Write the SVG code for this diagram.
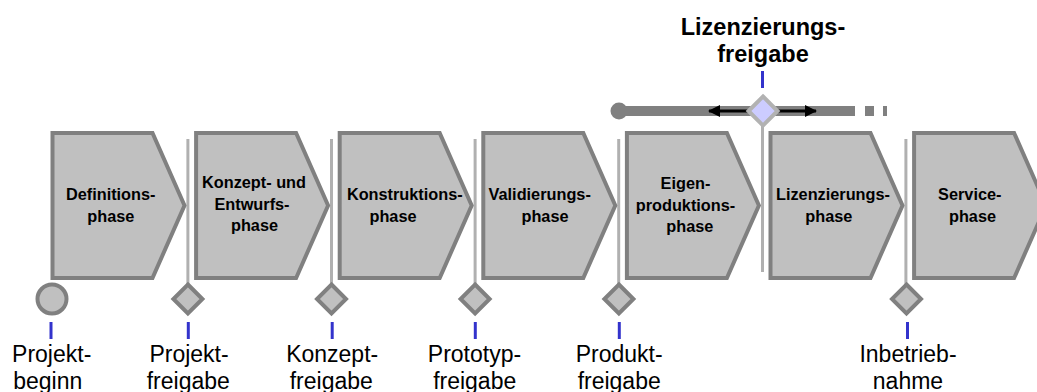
<svg xmlns="http://www.w3.org/2000/svg" width="1037" height="392" viewBox="0 0 1037 392">
  <defs>
    <style>
      .phase { fill: #c0c0c0; stroke: #808080; stroke-width: 4; stroke-linejoin: miter; }
      .gate { fill: #c0c0c0; stroke: #808080; stroke-width: 4; }
      .gate-hi { fill: #ccccff; stroke: #b2b2b2; stroke-width: 4; }
      .divider { stroke: #b0b0b0; stroke-width: 3; fill: none; }
      .tick { stroke: #3333cc; stroke-width: 3; fill: none; }
      .plabel { font-family: "Liberation Sans", Arial, sans-serif; font-weight: bold; font-size: 16.3px; fill: #000; text-anchor: middle; }
      .mlabel { font-family: "Liberation Sans", Arial, sans-serif; font-size: 23px; fill: #000; text-anchor: middle; }
      .title { font-family: "Liberation Sans", Arial, sans-serif; font-weight: bold; font-size: 23.5px; fill: #000; text-anchor: middle; }
      .bar { stroke: #808080; stroke-width: 10; fill: none; }
      .arrow { stroke: #000; stroke-width: 3; fill: none; }
    </style>
    <path id="chevron" d="M2,133 H102 L134,205.5 L102,278 H2 Z"/>
    <path id="diamond" d="M0,-14.5 L14.5,0 L0,14.5 L-14.5,0 Z"/>
    <marker id="head" viewBox="0 0 12 12" refX="11" refY="6" markerWidth="12" markerHeight="12" markerUnits="userSpaceOnUse" orient="auto">
      <path d="M0,0 L12,6 L0,12 Z" fill="#000"/>
    </marker>
  </defs>

  <!-- Phase dividers -->
  <g id="connectors">
    <line class="divider" x1="187.9" y1="139" x2="187.9" y2="285"/>
    <line class="divider" x1="331.5" y1="139" x2="331.5" y2="285"/>
    <line class="divider" x1="475.1" y1="139" x2="475.1" y2="285"/>
    <line class="divider" x1="618.7" y1="139" x2="618.7" y2="285"/>
    <line class="divider" x1="762.5" y1="126" x2="762.5" y2="272"/>
    <line class="divider" x1="905.9" y1="139" x2="905.9" y2="285"/>

    <!-- licensing timeline bar -->
    <line class="bar" x1="619" y1="111" x2="855" y2="111"/>
    <rect x="865" y="106" width="9" height="10" fill="#808080"/>
    <rect x="883" y="106" width="4" height="10" fill="#808080"/>
    <circle cx="619" cy="111" r="8.5" fill="#808080"/>
    <line class="arrow" x1="748" y1="111" x2="709" y2="111" marker-end="url(#head)"/>
    <line class="arrow" x1="778" y1="111" x2="816" y2="111" marker-end="url(#head)"/>

    <!-- label ticks -->
    <line class="tick" x1="51" y1="322" x2="51" y2="339"/>
    <line class="tick" x1="188.3" y1="322" x2="188.3" y2="339"/>
    <line class="tick" x1="332.2" y1="322" x2="332.2" y2="339"/>
    <line class="tick" x1="475.3" y1="322" x2="475.3" y2="339"/>
    <line class="tick" x1="619.3" y1="322" x2="619.3" y2="339"/>
    <line class="tick" x1="907.5" y1="322" x2="907.5" y2="339"/>
    <line class="tick" x1="762.5" y1="71" x2="762.5" y2="88"/>
  </g>

  <!-- Phases -->
  <g id="phase-definition" transform="translate(50.5,0)">
    <use href="#chevron" class="phase"/>
    <text class="plabel"><tspan x="60.2" y="199.5">Definitions-</tspan><tspan x="60.3" y="221.5">phase</tspan></text>
  </g>
  <g id="phase-konzept" transform="translate(194.1,0)">
    <use href="#chevron" class="phase"/>
    <text class="plabel"><tspan x="59.9" y="188.3">Konzept- und</tspan><tspan x="57.9" y="209.6">Entwurfs-</tspan><tspan x="60.4" y="231">phase</tspan></text>
  </g>
  <g id="phase-konstruktion" transform="translate(337.7,0)">
    <use href="#chevron" class="phase"/>
    <text class="plabel"><tspan x="67.1" y="199.5">Konstruktions-</tspan><tspan x="55.3" y="221.5">phase</tspan></text>
  </g>
  <g id="phase-validierung" transform="translate(481.3,0)">
    <use href="#chevron" class="phase"/>
    <text class="plabel"><tspan x="58.4" y="199.5">Validierungs-</tspan><tspan x="63.7" y="221.5">phase</tspan></text>
  </g>
  <g id="phase-eigenproduktion" transform="translate(624.9,0)">
    <use href="#chevron" class="phase"/>
    <text class="plabel"><tspan x="60.6" y="189.3">Eigen-</tspan><tspan x="60.6" y="210.7">produktions-</tspan><tspan x="64.9" y="232.2">phase</tspan></text>
  </g>
  <g id="phase-lizenzierung" transform="translate(768.5,0)">
    <use href="#chevron" class="phase"/>
    <text class="plabel"><tspan x="64.5" y="200">Lizenzierungs-</tspan><tspan x="60.3" y="221.7">phase</tspan></text>
  </g>
  <g id="phase-service" transform="translate(912.1,0)">
    <use href="#chevron" class="phase"/>
    <text class="plabel"><tspan x="57.7" y="200">Service-</tspan><tspan x="60.4" y="221.7">phase</tspan></text>
  </g>

  <!-- Milestones -->
  <g id="ms-projektbeginn">
    <circle cx="52" cy="299" r="14.5" class="gate"/>
    <text class="mlabel"><tspan x="51.7" y="362">Projekt-</tspan><tspan x="47.8" y="389">beginn</tspan></text>
  </g>
  <g id="ms-projektfreigabe">
    <use href="#diamond" class="gate" x="187.9" y="299"/>
    <text class="mlabel"><tspan x="189" y="362">Projekt-</tspan><tspan x="188.3" y="389">freigabe</tspan></text>
  </g>
  <g id="ms-konzeptfreigabe">
    <use href="#diamond" class="gate" x="331.5" y="299"/>
    <text class="mlabel"><tspan x="332.2" y="362">Konzept-</tspan><tspan x="331.3" y="389">freigabe</tspan></text>
  </g>
  <g id="ms-prototypfreigabe">
    <use href="#diamond" class="gate" x="475.1" y="299"/>
    <text class="mlabel"><tspan x="474.5" y="362">Prototyp-</tspan><tspan x="474.7" y="389">freigabe</tspan></text>
  </g>
  <g id="ms-produktfreigabe">
    <use href="#diamond" class="gate" x="618.9" y="299"/>
    <text class="mlabel"><tspan x="619.2" y="362">Produkt-</tspan><tspan x="619.2" y="389">freigabe</tspan></text>
  </g>
  <g id="ms-inbetriebnahme">
    <use href="#diamond" class="gate" x="906.5" y="299"/>
    <text class="mlabel"><tspan x="908" y="362">Inbetrieb-</tspan><tspan x="908" y="389">nahme</tspan></text>
  </g>
  <g id="ms-lizenzierungsfreigabe">
    <use href="#diamond" class="gate-hi" x="763" y="111"/>
    <text class="title"><tspan x="763" y="35">Lizenzierungs-</tspan><tspan x="763" y="62">freigabe</tspan></text>
  </g>
</svg>
